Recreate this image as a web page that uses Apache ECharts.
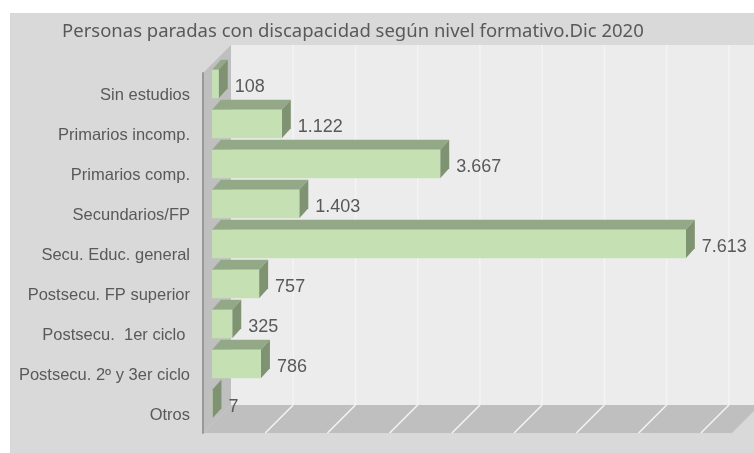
<!DOCTYPE html>
<html>
<head>
<meta charset="utf-8">
<style>
    html, body { margin: 0; padding: 0; background: #fff; overflow: hidden; }
    #chart { width: 754px; height: 453px; }
</style>
<script src="https://cdn.jsdelivr.net/npm/echarts@6/dist/echarts.min.js"></script>
</head>
<body>
<div id="chart"></div>
<script>
const titleText = 'Personas paradas con discapacidad según nivel formativo.Dic 2020';
const categories = ['Sin estudios', 'Primarios incomp.', 'Primarios comp.', 'Secundarios/FP', 'Secu. Educ. general',
    'Postsecu. FP superior', 'Postsecu.  1er ciclo ', 'Postsecu. 2º y 3er ciclo', 'Otros'];
const values = [108, 1122, 3667, 1403, 7613, 757, 325, 786, 7];
const gridTicks = [1000, 2000, 3000, 4000, 5000, 6000, 7000, 8000];
const axisMax = 8500;

const wallDepth = 28;   // fondo del "3D" falso
const barDepth = 9;
const barDepthY = 10;
const barInset = 9;
const barHeight = 28.5;

let chart = echarts.init(document.querySelector('#chart'));

function formatValue(v) {
    return String(v).replace(/\B(?=(\d{3})+$)/g, '.');
}

// paredes y suelo
function renderFrame(params, api) {
    let g = params.coordSys;
    let left = g.x, right = g.x + g.width, top = g.y, bottom = g.y + g.height;
    let d = wallDepth;
    let children = [
        { type: 'polygon', shape: { points: [[left + d, top - d], [right + d, top - d], [right + d, bottom - d], [left + d, bottom - d]] }, style: { fill: '#ececec' } },
        { type: 'polygon', shape: { points: [[left, top], [left + d, top - d], [left + d, bottom - d], [left, bottom]] }, style: { fill: '#bfbfbf' } },
        { type: 'polygon', shape: { points: [[left, bottom], [left + d, bottom - d], [right + d, bottom - d], [right, bottom]] }, style: { fill: '#bfbfbf' } }
    ];
    gridTicks.forEach(function (t) {
        let x = api.coord([t, 0])[0];
        children.push({ type: 'line', shape: { x1: x + d, y1: top - d, x2: x + d, y2: bottom - d }, style: { stroke: '#f4f4f4', lineWidth: 1.5 } });
        children.push({ type: 'line', shape: { x1: x + d, y1: bottom - d, x2: x, y2: bottom }, style: { stroke: '#f4f4f4', lineWidth: 1.5 } });
    });
    return { type: 'group', children: children };
}

function renderBar(params, api) {
    let start = api.coord([0, api.value(1)]);
    let end = api.coord([api.value(0), api.value(1)]);
    let x0 = start[0] + barInset;
    let x1 = end[0] + barInset;
    let cy = start[1] - barInset;
    let y0 = cy - barHeight / 2;
    let y1 = cy + barHeight / 2;
    let dx = barDepth, dy = barDepthY;
    return {
        type: 'group',
        children: [
            { type: 'polygon', shape: { points: [[x0, y0], [x0 + dx, y0 - dy], [x1 + dx, y0 - dy], [x1, y0]] }, style: { fill: '#93a886' } },
            { type: 'polygon', shape: { points: [[x1, y0], [x1 + dx, y0 - dy], [x1 + dx, y1 - dy], [x1, y1]] }, style: { fill: '#7f9272' } },
            { type: 'rect', shape: { x: x0, y: y0, width: x1 - x0, height: y1 - y0 }, style: { fill: '#c5e0b3' } },
            {
                type: 'text',
                style: {
                    text: formatValue(api.value(0)), x: x1 + dx + 7, y: cy + 3,
                    fill: '#595959', font: '18px "Liberation Sans"', align: 'left', verticalAlign: 'middle'
                }
            }
        ]
    };
}

let option = {
    animation: false,
    graphic: [
        { type: 'rect', z: -1, silent: true, shape: { x: 10, y: 13, width: 744, height: 440 }, style: { fill: '#d9d9d9' } }
    ],
    title: {
        text: titleText,
        left: 57,
        top: 17,
        textStyle: { color: '#595959', fontFamily: 'Noto Sans', fontSize: 18.5, fontWeight: 'normal' }
    },
    grid: { left: 203, top: 73, width: 529, height: 360 },
    xAxis: { type: 'value', min: 0, max: axisMax, interval: 1000, show: false },
    yAxis: {
        type: 'category',
        inverse: true,
        data: categories,
        axisLine: { lineStyle: { color: '#999999', width: 2 } },
        axisTick: { interval: 1, length: 6, lineStyle: { color: '#808080' } },
        axisLabel: {
            interval: 0, margin: 13, color: '#595959', fontFamily: 'Liberation Sans', fontSize: 16.5,
            verticalAlign: 'top', lineHeight: 4
        },
        splitLine: { show: false },
        z: 5
    },
    series: [
        { type: 'custom', silent: true, z: 1, renderItem: renderFrame, data: [[0, 0]], clip: false },
        {
            type: 'custom', silent: true, z: 2, renderItem: renderBar, clip: false,
            encode: { x: 0, y: 1 },
            data: values.map(function (v, i) { return [v, i]; })
        }
    ]
};

chart.setOption(option);
</script>
</body>
</html>
